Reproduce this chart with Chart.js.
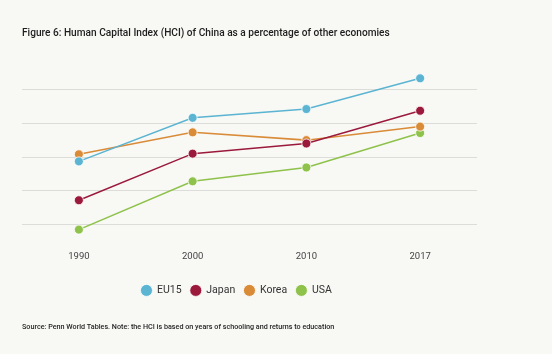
<!DOCTYPE html>
<html>
<head>
<meta charset="utf-8">
<script src="https://cdn.jsdelivr.net/npm/chart.js@4/dist/chart.umd.min.js"></script>
<style>
  html, body { margin: 0; padding: 0; background: #f8f8f5; }
  #wrap { width: 552px; height: 354px; position: relative; }
</style>
</head>
<body>
<div id="wrap"><canvas id="myChart" width="552" height="354"></canvas></div>
<script>
// chart data (y axis has no labels in the original, values are read in gridline units)
var years = ['1990', '2000', '2010', '2017'];
var eu15  = [38.7, 51.6, 54.2, 63.3];
var japan = [27.2, 41.0, 44.0, 53.7];
var korea = [40.8, 47.3, 45.0, 49.0];
var usa   = [18.5, 32.8, 36.9, 47.1];
var gridValues = [20, 30, 40, 50, 60];
var seriesNames = ['EU15', 'Japan', 'Korea', 'USA'];
var colors = ['#5bb4d1', '#9b1a3c', '#d98b37', '#8ec24b'];

var font = "Roboto, 'Liberation Sans', sans-serif";

function makeSet(i, values) {
  return {
    label: seriesNames[i],
    data: values,
    borderColor: colors[i],
    backgroundColor: colors[i],
    borderWidth: 1.5,
    pointRadius: 4.5,
    pointBorderColor: '#ffffff',
    pointBorderWidth: 0.8,
    pointBackgroundColor: colors[i],
    tension: 0
  };
}

// legend in the original sits a bit left of the plot centre
var legendShift = {
  id: 'legendShift',
  afterLayout: function(chart) {
    chart.legend.left -= 13;
    chart.legend.right -= 13;
  }
};

var ctx = document.getElementById('myChart').getContext('2d');
var myChart = new Chart(ctx, {
  type: 'line',
  data: {
    labels: years,
    datasets: [makeSet(0, eu15), makeSet(1, japan), makeSet(2, korea), makeSet(3, usa)]
  },
  options: {
    responsive: false,
    animation: false,
    layout: { padding: { left: 22, right: 75, top: 0, bottom: 22.7 } },
    scales: {
      x: {
        offset: true,
        grid: { display: false, drawTicks: false },
        border: { display: false },
        ticks: { color: '#444444', font: { family: font, size: 9.5 }, padding: 13 },
        afterFit: function(axis) { axis.height += 0.7; }
      },
      y: {
        min: 16,
        max: 65,
        border: { display: false },
        ticks: { display: false },
        afterBuildTicks: function(axis) {
          axis.ticks = gridValues.map(function(v){ return { value: v }; });
        },
        grid: { color: '#dcdcd8', lineWidth: 1, drawTicks: false }
      }
    },
    plugins: {
      title: {
        display: true,
        text: 'Figure 6: Human Capital Index (HCI) of China as a percentage of other economies',
        align: 'start',
        color: '#1e1e1e',
        font: { family: font, size: 10.15, weight: '500' },
        padding: { top: 27.2, bottom: 33.2 }
      },
      subtitle: {
        display: true,
        position: 'bottom',
        text: 'Source: Penn World Tables. Note: the HCI is based on years of schooling and returns to education',
        align: 'start',
        color: '#1e1e1e',
        font: { family: font, size: 7.2, weight: '500' },
        padding: { top: 17, bottom: 0 }
      },
      legend: {
        position: 'bottom',
        labels: {
          usePointStyle: true,
          pointStyle: 'circle',
          boxWidth: 10.5,
          boxHeight: 8.5,
          padding: 9,
          color: '#333333',
          font: { family: font, size: 10.5 }
        }
      },
      tooltip: { enabled: false }
    }
  },
  plugins: [legendShift]
});
</script>
</body>
</html>
